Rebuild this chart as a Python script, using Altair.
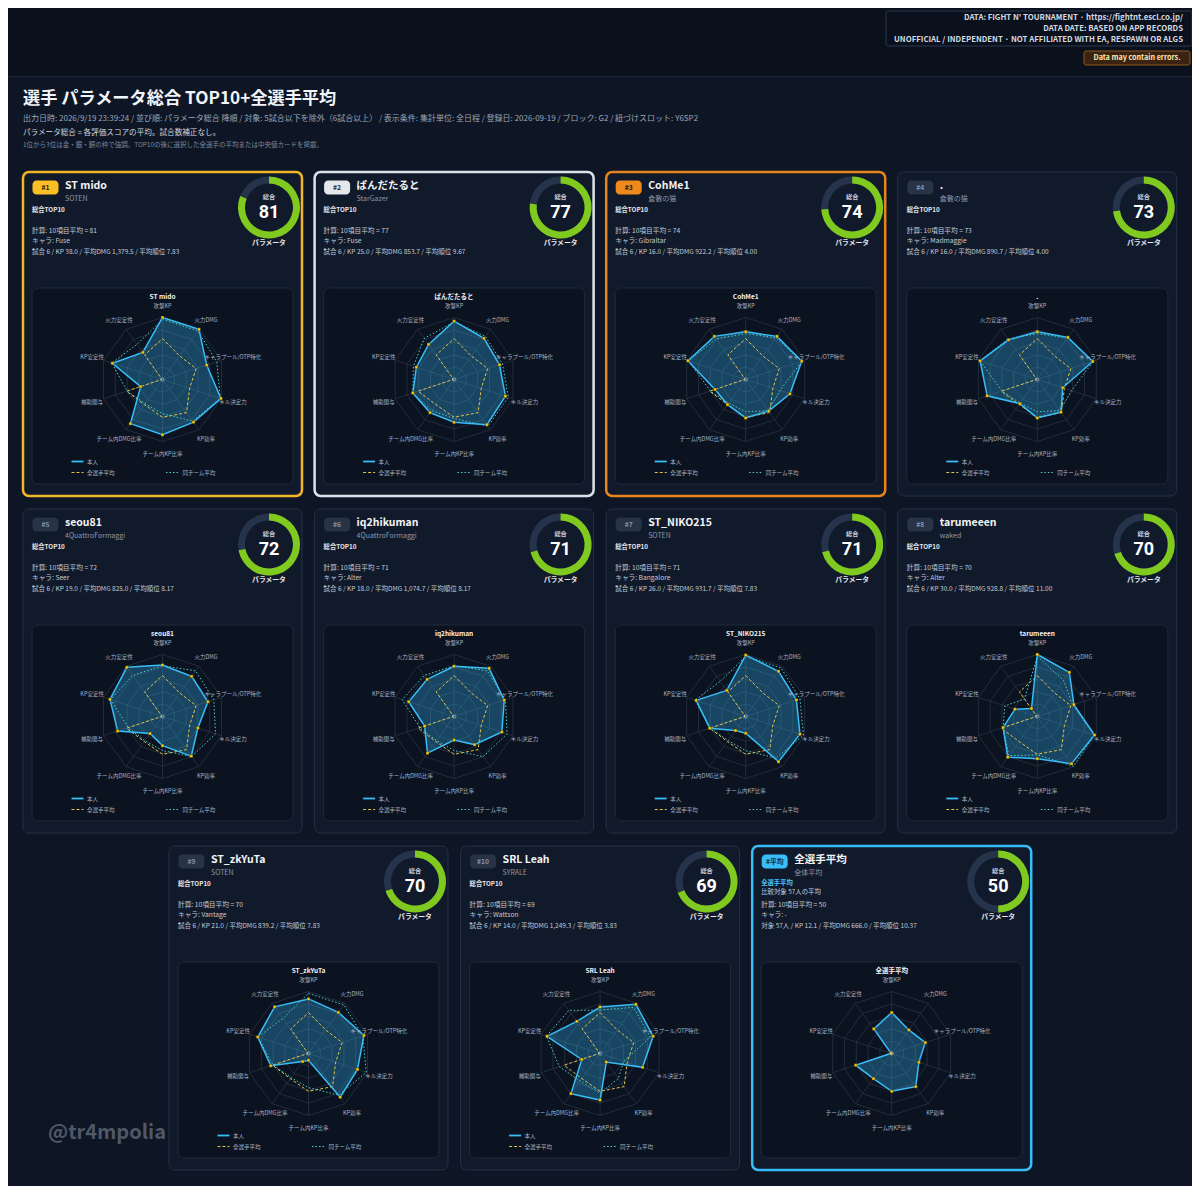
import math
import altair as alt
import pandas as pd

# ---------------- data ----------------
AXES = ["攻撃KP", "火力DMG", "キャラプール/OTP特化", "キル決定力", "KP効率",
        "チーム内KP比率", "チーム内DMG比率", "補助関与", "KP安定性", "火力安定性"]

RANK_LABELS = ["#1", "#2", "#3", "#4", "#5", "#6", "#7", "#8", "#9", "#10", "#平均"]
NAMES = ["ST mido", "ぱんだたると", "CohMe1", ".", "seou81", "iq2hikuman",
         "ST_NIKO215", "tarumeeen", "ST_zkYuTa", "SRL Leah", "全選手平均"]
TEAMS = ["SOTEN", "StarGazer", "倉敷の猫", "倉敷の猫", "4QuattroFormaggi", "4QuattroFormaggi",
         "SOTEN", "waked", "SOTEN", "SYRALE", "全体平均"]
SCORES = [81, 77, 74, 73, 72, 71, 71, 70, 70, 69, 50]
CHARACTERS = ["Fuse", "Fuse", "Gibraltar", "Madmaggie", "Seer", "Alter",
              "Bangalore", "Alter", "Vantage", "Wattson", "-"]
GAMES = ["試合 6"] * 10 + ["対象 57人"]
KP = ["38.0", "25.0", "16.0", "16.0", "19.0", "18.0", "26.0", "30.0", "21.0", "14.0", "12.1"]
AVG_DMG = ["1,379.5", "853.7", "922.2", "890.7", "825.0", "1,074.7", "931.7",
           "928.8", "839.2", "1,249.3", "666.0"]
AVG_PLACE = ["7.83", "9.67", "4.00", "4.00", "8.17", "8.17", "7.83", "11.00", "7.83", "3.83", "10.37"]

SELF_VALUES = [
    [100, 100, 75, 99, 85, 89, 88, 37, 85, 54],
    [94, 82, 77, 87, 90, 69, 66, 70, 64, 70],
    [77, 86, 95, 75, 63, 62, 50, 52, 98, 86],
    [77, 84, 94, 43, 65, 62, 48, 85, 97, 79],
    [83, 80, 77, 60, 79, 47, 34, 76, 89, 98],
    [81, 96, 85, 81, 56, 38, 73, 50, 77, 74],
    [99, 90, 86, 92, 90, 27, 28, 61, 84, 52],
    [100, 88, 62, 97, 94, 68, 81, 58, 38, 16],
    [88, 82, 94, 83, 87, 11, 16, 64, 86, 93],
    [75, 98, 90, 72, 17, 75, 80, 31, 90, 64],
    [66, 47, 57, 46, 66, 61, 50, 61, 1, 49],
]
ALL_PLAYER_AVG = [66, 47, 57, 46, 66, 61, 50, 61, 1, 49]
TEAM_AVG = {
    "SOTEN": [97, 97, 92, 98, 83, 55, 48, 60, 86, 70],
    "StarGazer": [93, 86, 82, 92, 93, 63, 62, 70, 69, 82],
    "倉敷の猫": [74, 83, 95, 58, 62, 52, 47, 60, 97, 81],
    "4QuattroFormaggi": [82, 91, 87, 90, 80, 55, 48, 58, 88, 82],
    "waked": [97, 72, 60, 97, 99, 62, 78, 58, 55, 35],
    "SYRALE": [70, 92, 85, 40, 50, 64, 55, 69, 91, 86],
}

HEADER_LINES = ["DATA: FIGHT N' TOURNAMENT · https://fightnt.escl.co.jp/",
                "DATA DATE: BASED ON APP RECORDS",
                "UNOFFICIAL / INDEPENDENT · NOT AFFILIATED WITH EA, RESPAWN OR ALGS"]
WARNING = "Data may contain errors."
TITLE = "選手 パラメータ総合 TOP10+全選手平均"
SUBTITLE = ("出力日時: 2026/9/19 23:39:24 / 並び順: パラメータ総合 降順 / 対象: 5試合以下を除外（6試合以上） / "
            "表示条件: 集計単位: 全日程 / 登録日: 2026-09-19 / ブロック: G2 / 紐づけスロット: Y6SP2")
FORMULA = "パラメータ総合 = 各評価スコアの平均。試合数補正なし。"
NOTE = "1位から3位は金・銀・銅の枠で強調。TOP10の後に選択した全選手の平均または中央値カードを掲載。"
WATERMARK = "@tr4mpolia"

# ---------------- styling / layout ----------------
FONT = "Noto Sans CJK JP"
NUM_FONT = "Roboto"
BG = "#0e1626"
R = 62.0
CARD_W, CARD_H = 279, 324
BORDER = ["#f2b52a", "#dde2ea", "#e8841c"] + ["#243145"] * 7 + ["#38bdf8"]
BORDER_W = [2.5, 2.5, 2.5] + [1] * 7 + [2.5]
BADGE_FILL = ["#fbbf24", "#e5e7eb", "#f0891d"] + ["#283346"] * 7 + ["#38bdf8"]
BADGE_TEXT = ["#1f1a10", "#1f2937", "#1f1408"] + ["#8592a6"] * 7 + ["#0b2a4a"]

XS = alt.Scale(domain=[8, 1192], range=[0, 1184], nice=False, zero=False)
YS = alt.Scale(domain=[8, 1186], range=[0, 1178], nice=False, zero=False)


def card_origin(i):
    if i < 4:
        return 23 + i * 291.6, 172
    if i < 8:
        return 23 + (i - 4) * 291.6, 509
    return 169 + (i - 8) * 291.6, 846


def polar(cx, cy, k, v, rad=R):
    a = math.radians(36 * k)
    r = rad * v / 100.0
    return cx + r * math.sin(a), cy - r * math.cos(a)


texts = []


def T(x, y, text, size, color, align="left", weight="normal", font=FONT):
    texts.append(dict(x=x, y=y, text=text, size=size, color=color, align=align,
                      weight=weight, font=font))


rect_groups = {"bg": [], "card": [], "panel": [], "badge": []}
RADIUS = {"bg": 2, "card": 6, "panel": 6, "badge": 4}


def RECT(group, x, y, x2, y2, fill, stroke, sw):
    rect_groups[group].append(dict(x=x, y=y, x2=x2, y2=y2, fill=fill, stroke=stroke, sw=sw))


# header
RECT("bg", 8, 8, 1192, 76, "#0a111d", "#0a111d", 0)
RECT("bg", 8, 76, 1192, 77, "#1c2737", "#1c2737", 0)
RECT("bg", 886, 11, 1192, 46, "#0a111c", "#2a3850", 1)
RECT("bg", 1084, 51, 1190, 65, "#3a2411", "#8a5a25", 1)
for j, line in enumerate(HEADER_LINES):
    T(1183, 17.5 + 11 * j, line, 7.8, "#d5dae2", "right", "bold")
T(1137, 58.2, WARNING, 7.2, "#fde9b0", "center", "bold")
T(23, 99, TITLE, 17.2, "#f1f5f9", "left", "bold")
T(23, 119, SUBTITLE, 8.0, "#9aa6b6")
T(23, 133, FORMULA, 7.6, "#d0d6df")
T(23, 145, NOTE, 6.5, "#7d8898")

grid_rows, spoke_rows, self_rows, avg_rows, team_rows = [], [], [], [], []
center_rows, donut_rows = [], []
legend_self, legend_avg, legend_team = [], [], []

for i in range(11):
    x0, y0 = card_origin(i)
    RECT("card", x0, y0, x0 + CARD_W, y0 + CARD_H, "#111a2b", BORDER[i], BORDER_W[i])
    RECT("panel", x0 + 9, y0 + 116, x0 + 270, y0 + 312, "#0b1220", "#1e2a3b", 1)
    # badge
    RECT("badge", x0 + 9.5, y0 + 8.5, x0 + 35.5, y0 + 22.5, BADGE_FILL[i], BADGE_FILL[i], 0)
    T(x0 + 22.5, y0 + 15.7, RANK_LABELS[i], 6.8, BADGE_TEXT[i], "center", "bold")
    T(x0 + 42, y0 + 14, NAMES[i], 10.5, "#f3f4f6", "left", "bold")
    T(x0 + 42, y0 + 27, TEAMS[i], 7, "#8b97a8")
    info = f"{GAMES[i]} / KP {KP[i]} / 平均DMG {AVG_DMG[i]} / 平均順位 {AVG_PLACE[i]}"
    if i < 10:
        T(x0 + 9, y0 + 38, "総合TOP10", 6.3, "#e5e7eb", "left", "bold")
    else:
        T(x0 + 9, y0 + 36.5, "全選手平均", 6.3, "#4cc3f5", "left", "bold")
        T(x0 + 9, y0 + 46, "比較対象 57人の平均", 6.4, "#c9d1dc")
    T(x0 + 9, y0 + 58.5, f"計算: 10項目平均 = {SCORES[i]}", 6.7, "#c2cad6")
    T(x0 + 9, y0 + 69, f"キャラ: {CHARACTERS[i]}", 6.7, "#c2cad6")
    T(x0 + 9, y0 + 79.5, info, 6.5, "#c2cad6")
    # donut
    dcx, dcy = x0 + 246, y0 + 35.5
    donut_rows.append(dict(x=dcx, y=dcy, t0=0.0, t1=2 * math.pi, color="#25344a"))
    donut_rows.append(dict(x=dcx, y=dcy, t0=0.0, t1=2 * math.pi * SCORES[i] / 100, color="#80c91f"))
    T(dcx, dcy - 10.5, "総合", 6.2, "#cbd5e1", "center", "bold")
    T(dcx, dcy + 5.5, str(SCORES[i]), 18, "#ffffff", "center", "bold", NUM_FONT)
    T(dcx, dcy + 35, "パラメータ", 6.8, "#e5e7eb", "center", "bold")

    # radar
    cx, cy = x0 + 139.5, y0 + 207.5
    for lvl in [20, 40, 60, 80, 100]:
        for k in range(10):
            px, py = polar(cx, cy, k, lvl)
            grid_rows.append(dict(x=px, y=py, g=f"{i}-{lvl}", k=k))
    for k in range(10):
        px, py = polar(cx, cy, k, 100)
        spoke_rows.append(dict(x=cx, y=cy, x2=px, y2=py))
        lx, ly = polar(cx, cy, k, 100, rad=74)
        T(lx, ly, AXES[k], 5.5, "#a9b3c1", "center")
    T(cx, cy - 82.5, NAMES[i], 6.5, "#f3f4f6", "center", "bold")
    center_rows.append(dict(x=cx, y=cy))
    for k in range(10):
        px, py = polar(cx, cy, k, SELF_VALUES[i][k])
        self_rows.append(dict(x=px, y=py, g=str(i), k=k))
    if i < 10:
        for k in range(10):
            px, py = polar(cx, cy, k, ALL_PLAYER_AVG[k])
            avg_rows.append(dict(x=px, y=py, g=str(i), k=k))
            px, py = polar(cx, cy, k, TEAM_AVG[TEAMS[i]][k])
            team_rows.append(dict(x=px, y=py, g=str(i), k=k))
        legend_self.append(dict(x=cx - 91, x2=cx - 79, y=cy + 82))
        legend_avg.append(dict(x=cx - 91, x2=cx - 79, y=cy + 93))
        legend_team.append(dict(x=cx + 3.5, x2=cx + 15.5, y=cy + 93))
        T(cx - 75.5, cy + 82, "本人", 5.5, "#a9b3c1")
        T(cx - 75.5, cy + 93, "全選手平均", 5.5, "#a9b3c1")
        T(cx + 20, cy + 93, "同チーム平均", 5.5, "#a9b3c1")

T(48, 1133, WATERMARK, 20, "rgba(190,200,215,0.38)", "left", "bold")

# ---------------- chart ----------------
X = alt.X("x:Q", scale=XS, axis=None)
Y = alt.Y("y:Q", scale=YS, axis=None)


def rect_layer(group):
    return alt.Chart(pd.DataFrame(rect_groups[group])).mark_rect(cornerRadius=RADIUS[group]).encode(
        x=X, x2="x2:Q", y=Y, y2="y2:Q",
        fill=alt.Fill("fill:N", scale=None),
        stroke=alt.Stroke("stroke:N", scale=None),
        strokeWidth=alt.StrokeWidth("sw:Q", scale=None),
    )


layers = [rect_layer("bg"), rect_layer("card"), rect_layer("panel"), rect_layer("badge")]

layers.append(
    alt.Chart(pd.DataFrame(grid_rows)).mark_line(
        interpolate="linear-closed", stroke="#283345", strokeWidth=0.8
    ).encode(x=X, y=Y, detail="g:N", order="k:Q")
)
layers.append(
    alt.Chart(pd.DataFrame(spoke_rows)).mark_rule(stroke="#283345", strokeWidth=0.8).encode(
        x=X, y=Y, x2="x2:Q", y2="y2:Q")
)
self_df = pd.DataFrame(self_rows)
layers.append(
    alt.Chart(self_df).mark_line(
        interpolate="linear-closed", fill="#38bdf8", fillOpacity=0.3, strokeOpacity=0
    ).encode(x=X, y=Y, detail="g:N", order="k:Q")
)
layers.append(
    alt.Chart(pd.DataFrame(avg_rows)).mark_line(
        interpolate="linear-closed", stroke="#e3c44a", strokeWidth=1, strokeDash=[3, 2]
    ).encode(x=X, y=Y, detail="g:N", order="k:Q")
)
layers.append(
    alt.Chart(pd.DataFrame(team_rows)).mark_line(
        interpolate="linear-closed", stroke="#4fd1c5", strokeWidth=1, strokeDash=[1.5, 2]
    ).encode(x=X, y=Y, detail="g:N", order="k:Q")
)
layers.append(
    alt.Chart(self_df).mark_line(
        interpolate="linear-closed", stroke="#38bdf8", strokeWidth=1.5
    ).encode(x=X, y=Y, detail="g:N", order="k:Q")
)
layers.append(
    alt.Chart(self_df).mark_square(size=9, color="#facc15", opacity=1, stroke="#1a1a0a", strokeWidth=0.4).encode(
        x=X, y=Y)
)
layers.append(
    alt.Chart(pd.DataFrame(center_rows)).mark_point(
        shape="circle", size=10, filled=False, stroke="#cbd5e1", strokeWidth=0.8
    ).encode(x=X, y=Y)
)
layers.append(
    alt.Chart(pd.DataFrame(legend_self)).mark_rule(stroke="#38bdf8", strokeWidth=1.8).encode(
        x=X, x2="x2:Q", y=Y)
)
layers.append(
    alt.Chart(pd.DataFrame(legend_avg)).mark_rule(stroke="#e3c44a", strokeWidth=1.2, strokeDash=[3, 2]).encode(
        x=X, x2="x2:Q", y=Y)
)
layers.append(
    alt.Chart(pd.DataFrame(legend_team)).mark_rule(stroke="#4fd1c5", strokeWidth=1.2, strokeDash=[1.5, 2]).encode(
        x=X, x2="x2:Q", y=Y)
)
layers.append(
    alt.Chart(pd.DataFrame(donut_rows)).mark_arc(radius=31, radius2=24).encode(
        x=X, y=Y,
        theta=alt.Theta("t0:Q", scale=None, stack=None),
        theta2="t1:Q",
        color=alt.Color("color:N", scale=None),
    )
)

text_df = pd.DataFrame(texts)
for (align, weight, font), sub in text_df.groupby(["align", "weight", "font"]):
    layers.append(
        alt.Chart(sub).mark_text(align=align, baseline="middle", fontWeight=weight, font=font).encode(
            x=X, y=Y, text="text:N",
            size=alt.Size("size:Q", scale=None),
            color=alt.Color("color:N", scale=None),
        )
    )

chart = alt.layer(*layers).properties(
    width=1184, height=1178, padding=0,
    autosize=alt.AutoSizeParams(type="none"),
    background=BG,
).configure_view(strokeWidth=0)

chart.save("out.html", embed_options={"renderer": "svg", "actions": False})
